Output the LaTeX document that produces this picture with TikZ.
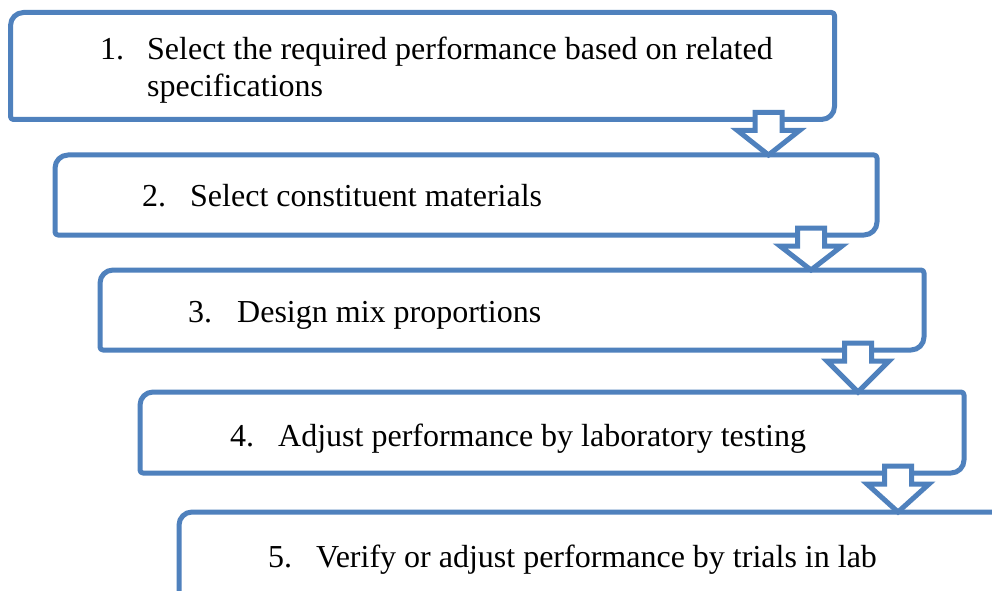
\documentclass[tikz,border=0pt]{standalone}
\usepackage{fontspec}
\setmainfont{Liberation Serif}
\usetikzlibrary{calc}

\definecolor{stepblue}{RGB}{79,129,189}

\tikzset{
  outline/.style={draw=stepblue, line width=5pt, line join=round},
  arrowshape/.style={draw=stepblue, line width=5pt, line join=miter, miter limit=10, fill=white},
  steptext/.style={font=\fontsize{32}{37}\selectfont, anchor=base west, inner sep=0pt, text=black},
}

% Step frame: square-ish top-right and bottom-left corners,
% large rounding at top-left and bottom-right.
\newcommand\stepframe[3]{% name, top-left corner, bottom-right corner
  \coordinate (#1-nw) at (#2);
  \coordinate (#1-se) at (#3);
  \draw[outline]
    ($(#1-nw)+(0,-13)$) arc[start angle=180, end angle=90, radius=13pt]
    -- ($(#1-se |- #1-nw)+(-3,0)$) arc[start angle=90, end angle=0, radius=3pt]
    -- ($(#1-se)+(0,13)$) arc[start angle=0, end angle=-90, radius=13pt]
    -- ($(#1-nw |- #1-se)+(3,0)$) arc[start angle=270, end angle=180, radius=3pt]
    -- cycle;
}

% Hollow block arrow from the lower edge of one frame to the top of the next
\newcommand\stepconnector[2]{% from frame, to frame
  \coordinate (#1-out) at ($(#1-se)+(-66,7)$);
  \coordinate (#2-in) at (#1-out |- #2-nw);
  \draw[arrowshape]
    ($(#1-out)+(-13.5,0)$) -- ($(#1-out)+(13.5,0)$)
    -- ($(#1-out)+(13.5,-18)$) -- ($(#1-out)+(31,-18)$)
    -- (#2-in)
    -- ($(#1-out)+(-31,-18)$) -- ($(#1-out)+(-13.5,-18)$)
    -- cycle;
}

\begin{document}
\begin{tikzpicture}[x=1pt, y=1pt]
  \fill[white] (0,0) rectangle (992,590);
  \clip (0,0) rectangle (992,590);

  % frames
  \stepframe{b1}{10.5,577.5}{834.5,470.5}
  \stepframe{b2}{55,435}{877,355}
  \stepframe{b3}{100,320}{924,240}
  \stepframe{b4}{140,198}{964,117}
  \stepframe{b5}{179,78}{1004,-40}

  % arrows between consecutive steps
  \stepconnector{b1}{b2}
  \stepconnector{b2}{b3}
  \stepconnector{b3}{b4}
  \stepconnector{b4}{b5}

  % step labels
  \node[steptext] (n1) at ($(b1-nw)+(89.5,-47.5)$) {1.};
  \node[steptext] (t1) at ($(b1-nw)+(136.5,-47.5)$)
    {\parbox[t]{700pt}{Select the required performance based on related\\specifications}};

  \node[steptext] (n2) at ($(b2-nw)+(87,-51)$) {2.};
  \node[steptext] (t2) at ($(b2-nw)+(135,-51)$) {Select constituent materials};

  \node[steptext] (n3) at ($(b3-nw)+(88,-52)$) {3.};
  \node[steptext] (t3) at ($(b3-nw)+(137,-52)$) {Design mix proportions};

  \node[steptext] (n4) at ($(b4-nw)+(90,-54)$) {4.};
  \node[steptext] (t4) at ($(b4-nw)+(138,-54)$) {Adjust performance by laboratory testing};

  \node[steptext] (n5) at ($(b5-nw)+(89,-55)$) {5.};
  \node[steptext] (t5) at ($(b5-nw)+(137,-55)$) {Verify or adjust performance by trials in lab};
\end{tikzpicture}
\end{document}
